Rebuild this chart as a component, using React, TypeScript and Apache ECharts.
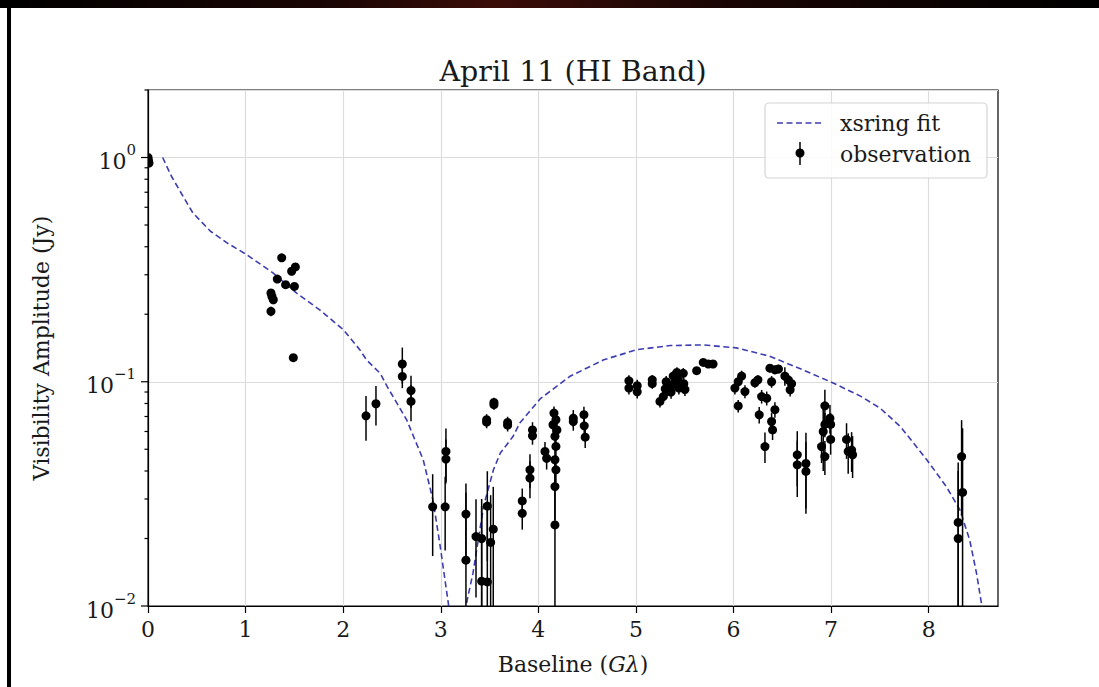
import React, { useEffect, useRef } from "react";
import * as echarts from "echarts";

// Fitted xsring model curve (baseline in Gλ, amplitude in Jy)
const fitX = [0.15, 0.24, 0.36, 0.46, 0.64, 0.81, 1.01, 1.28, 1.52, 1.76, 2.0, 2.17, 2.24, 2.38, 2.45, 2.65, 2.82, 2.92, 2.99, 3.08, 3.14, 3.2, 3.26, 3.33, 3.44, 3.54, 3.61, 3.74, 3.81, 4.02, 4.32, 4.67, 5.01, 5.35, 5.69, 6.03, 6.37, 6.71, 7.02, 7.3, 7.5, 7.71, 7.98, 8.18, 8.32, 8.42, 8.49, 8.54, 8.6];
const fitY = [1.0, 0.825, 0.67, 0.566, 0.469, 0.416, 0.369, 0.306, 0.249, 0.209, 0.171, 0.139, 0.125, 0.109, 0.0953, 0.0677, 0.0449, 0.0297, 0.019, 0.0101, 0.006, 0.002, 0.0101, 0.014, 0.028, 0.0405, 0.0481, 0.057, 0.0655, 0.084, 0.1055, 0.1253, 0.139, 0.145, 0.146, 0.1416, 0.13, 0.113, 0.0988, 0.0863, 0.0764, 0.0631, 0.0449, 0.0341, 0.0268, 0.0197, 0.014, 0.0103, 0.006];

// Observed visibility amplitudes with 1-sigma errors (Jy)
const obsX = [
  0.0, 0.005, 0.01,
  1.37, 1.325, 1.41, 1.472, 1.51, 1.5, 1.26, 1.284, 1.27, 1.26, 1.489,
  2.234, 2.336, 2.606, 2.606, 2.695, 2.695,
  2.917, 3.053, 3.053, 3.045, 3.258, 3.258, 3.361, 3.419, 3.419, 3.477, 3.477, 3.511, 3.538,
  3.47, 3.47, 3.545, 3.545, 3.685, 3.685, 3.835, 3.835, 3.914, 3.914, 3.94, 3.94, 4.068, 4.085,
  4.16, 4.18, 4.15, 4.19, 4.17, 4.18, 4.17, 4.18, 4.17, 4.17,
  4.358, 4.358, 4.467, 4.47, 4.48,
  4.928, 4.928, 5.013, 5.013, 5.167, 5.167, 5.246, 5.28, 5.314, 5.31, 5.348, 5.382, 5.39, 5.433, 5.44, 5.485, 5.49, 5.502, 5.36, 5.3, 5.42,
  5.622, 5.69, 5.741, 5.79,
  6.014, 6.048, 6.083, 6.117, 6.048, 6.219, 6.25, 6.288, 6.34, 6.263, 6.39, 6.373, 6.424, 6.46, 6.424, 6.39, 6.4, 6.322, 6.526, 6.56, 6.595, 6.58,
  6.653, 6.653, 6.742, 6.742, 6.936, 6.919, 6.936, 6.902, 6.936, 6.988, 6.995, 6.995,
  7.158, 7.175, 7.21, 7.22,
  8.337, 8.347, 8.302, 8.302,
];
const obsY = [
  1.0, 0.97, 0.945,
  0.357, 0.287, 0.271, 0.311, 0.325, 0.266, 0.249, 0.232, 0.24, 0.206, 0.128,
  0.0705, 0.0798, 0.12, 0.1056, 0.0914, 0.0817,
  0.0277, 0.0489, 0.0452, 0.0277, 0.0257, 0.016, 0.0204, 0.02, 0.0129, 0.0128, 0.0279, 0.0192, 0.022,
  0.0677, 0.066, 0.0809, 0.079, 0.0658, 0.064, 0.0294, 0.0259, 0.0405, 0.0372, 0.061, 0.0574, 0.0489, 0.0456,
  0.0725, 0.0677, 0.0643, 0.061, 0.0571, 0.0515, 0.0449, 0.0405, 0.0341, 0.023,
  0.0688, 0.0665, 0.0713, 0.0636, 0.0566,
  0.101, 0.0937, 0.096, 0.0902, 0.102, 0.098, 0.0817, 0.0859, 0.0903, 0.1, 0.0953, 0.106, 0.098, 0.102, 0.0937, 0.109, 0.098, 0.0923, 0.09, 0.093, 0.11,
  0.112, 0.122, 0.12, 0.12,
  0.0937, 0.1, 0.106, 0.0904, 0.078, 0.099, 0.102, 0.0859, 0.0844, 0.0712, 0.1, 0.115, 0.113, 0.114, 0.0751, 0.0665, 0.061, 0.0514, 0.106, 0.102, 0.098, 0.092,
  0.0472, 0.0426, 0.0432, 0.0398, 0.0781, 0.06, 0.0645, 0.0514, 0.0464, 0.0688, 0.0645, 0.0553,
  0.0553, 0.0489, 0.0496, 0.0472,
  0.0464, 0.0321, 0.0236, 0.02,
];
const obsErr = [
  0.01, 0.01, 0.01,
  0.012, 0.01, 0.01, 0.01, 0.01, 0.01, 0.01, 0.01, 0.01, 0.01, 0.005,
  0.016, 0.016, 0.022, 0.012, 0.015, 0.015,
  0.011, 0.013, 0.01, 0.01, 0.0095, 0.016, 0.0095, 0.01, 0.015, 0.014, 0.012, 0.012, 0.012,
  0.004, 0.004, 0.004, 0.004, 0.004, 0.004, 0.004, 0.004, 0.007, 0.007, 0.005, 0.005, 0.005, 0.005,
  0.005, 0.005, 0.005, 0.005, 0.005, 0.005, 0.005, 0.005, 0.01, 0.022,
  0.006, 0.006, 0.006, 0.006, 0.006,
  0.006, 0.006, 0.006, 0.006, 0.005, 0.005, 0.005, 0.005, 0.006, 0.006, 0.006, 0.006, 0.006, 0.006, 0.006, 0.006, 0.006, 0.006, 0.006, 0.006, 0.006,
  0.004, 0.004, 0.004, 0.004,
  0.006, 0.006, 0.006, 0.006, 0.005, 0.005, 0.005, 0.006, 0.006, 0.006, 0.006, 0.005, 0.005, 0.005, 0.006, 0.006, 0.006, 0.008, 0.01, 0.006, 0.006, 0.006,
  0.013, 0.012, 0.016, 0.014, 0.014, 0.02, 0.008, 0.008, 0.008, 0.01, 0.008, 0.008,
  0.01, 0.01, 0.01, 0.01,
  0.021, 0.03, 0.02, 0.02,
];

const xTicks = [0, 1, 2, 3, 4, 5, 6, 7, 8];
const yMajorTicks = [0.01, 0.1, 1];
const yMinorTicks = [0.02, 0.03, 0.04, 0.05, 0.06, 0.07, 0.08, 0.09, 0.2, 0.3, 0.4, 0.5, 0.6, 0.7, 0.8, 0.9, 2];

const SERIF = '"DejaVu Serif", serif';
const FIT_COLOR = "#3d3db2";
const TEXT = "#1a1a1a";

export default function App() {
  const ref = useRef<HTMLDivElement>(null);

  useEffect(() => {
    if (!ref.current) return;
    const chart = echarts.init(ref.current, null, { renderer: "svg" });

    const fitData = fitX.map((x, i) => [x, fitY[i]]);
    const obsData = obsX.map((x, i) => [x, obsY[i], obsErr[i]]);
    const tickData = [
      ...yMajorTicks.map((v) => [0, v, 7]),
      ...yMinorTicks.map((v) => [0, v, 3.5]),
    ];

    const supLabel = (v: number) => {
      const l = Math.log10(v);
      const e = Math.round(l);
      if (Math.abs(l - e) > 1e-6) return "";
      return `{b|10}{s|${e === 0 ? "0" : "\u2212" + -e}}`;
    };

    const legendZ = { z: 100, zlevel: 0 };

    chart.setOption({
      animation: false,
      backgroundColor: "#ffffff",
      grid: {
        left: 148,
        right: 101,
        top: 90,
        bottom: 81,
        show: true,
        borderColor: "#000",
        borderWidth: 1.2,
        backgroundColor: "transparent",
      },
      xAxis: {
        type: "value",
        min: 0,
        max: 8.71,
        interval: 1,
        axisLine: { show: true, onZero: false, lineStyle: { color: "#000", width: 1.2 } },
        axisTick: { show: true, length: 7, customValues: xTicks, lineStyle: { color: "#000", width: 1.2 } },
        axisLabel: {
          customValues: xTicks,
          fontFamily: SERIF,
          fontSize: 22,
          color: TEXT,
          margin: 12,
        },
        splitLine: { show: true, lineStyle: { color: "#dcdcdc", width: 1.2 } },
        name: "Baseline ({i|G\u03bb})",
        nameLocation: "middle",
        nameGap: 47,
        nameTextStyle: {
          fontFamily: SERIF,
          fontSize: 22,
          color: TEXT,
          rich: { i: { fontFamily: SERIF, fontSize: 22, fontStyle: "italic", color: TEXT } },
        },
      },
      yAxis: {
        type: "log",
        logBase: 10,
        min: 0.01,
        max: 2,
        axisLine: { show: true, lineStyle: { color: "#000", width: 1.2 } },
        axisTick: { show: false },
        axisLabel: {
          formatter: supLabel,
          margin: 12,
          rich: {
            b: { fontFamily: SERIF, fontSize: 22, color: TEXT, lineHeight: 30, verticalAlign: "bottom" },
            s: { fontFamily: SERIF, fontSize: 15, color: TEXT, lineHeight: 30, verticalAlign: "top" },
          },
        },
        splitLine: { show: true, lineStyle: { color: "#dcdcdc", width: 1.2 } },
        name: "Visibility Amplitude (Jy)",
        nameLocation: "middle",
        nameGap: 96,
        nameTextStyle: { fontFamily: SERIF, fontSize: 22, color: TEXT },
      },
      series: [
        {
          name: "xsring fit",
          type: "line",
          data: fitData,
          showSymbol: false,
          clip: true,
          z: 3,
          lineStyle: { color: FIT_COLOR, width: 1.6, type: [6, 3.5] },
        },
        {
          name: "observation",
          type: "custom",
          data: obsData,
          clip: true,
          z: 4,
          encode: { x: 0, y: 1 },
          renderItem: (_params: any, api: any) => {
            const x = api.value(0);
            const y = api.value(1);
            const e = api.value(2);
            const lo = y - e > 0 ? y - e : 1e-5;
            const p = api.coord([x, y]);
            const top = api.coord([x, y + e]);
            const bot = api.coord([x, lo]);
            return {
              type: "group",
              children: [
                {
                  type: "line",
                  shape: { x1: p[0], y1: top[1], x2: p[0], y2: bot[1] },
                  style: { stroke: "#000", lineWidth: 1.5 },
                },
                {
                  type: "circle",
                  shape: { cx: p[0], cy: p[1], r: 4.5 },
                  style: { fill: "#000" },
                },
              ],
            };
          },
        },
        {
          // major and minor log ticks on the left spine
          type: "custom",
          data: tickData,
          clip: false,
          silent: true,
          z: 5,
          encode: { x: 0, y: 1 },
          renderItem: (_params: any, api: any) => {
            const p = api.coord([api.value(0), api.value(1)]);
            const len = api.value(2);
            return {
              type: "line",
              shape: { x1: p[0] - len, y1: p[1], x2: p[0], y2: p[1] },
              style: { stroke: "#000", lineWidth: 1.2 },
            };
          },
        },
      ],
      graphic: [
        {
          type: "rect",
          shape: { x: 0, y: 0, width: 1099, height: 8 },
          style: {
            fill: new echarts.graphic.LinearGradient(0, 0, 1, 0, [
              { offset: 0, color: "#000" },
              { offset: 0.3, color: "#1a0604" },
              { offset: 0.45, color: "#3a0c08" },
              { offset: 0.65, color: "#1a0604" },
              { offset: 1, color: "#000" },
            ]),
          },
          silent: true,
        },
        {
          type: "rect",
          shape: { x: 7, y: 0, width: 4, height: 687 },
          style: { fill: "#000" },
          silent: true,
        },
        {
          type: "text",
          x: 573,
          y: 71,
          style: {
            text: "April 11 (HI Band)",
            fontFamily: SERIF,
            fontSize: 28.5,
            fill: TEXT,
            align: "center",
            verticalAlign: "middle",
          },
          silent: true,
        },
        {
          type: "rect",
          ...legendZ,
          silent: true,
          shape: { x: 765, y: 103, width: 222, height: 75, r: 4 },
          style: { fill: "rgba(255,255,255,0.85)", stroke: "#d4d4d4", lineWidth: 1.2 },
        },
        {
          type: "line",
          ...legendZ,
          silent: true,
          shape: { x1: 777, y1: 123, x2: 823, y2: 123 },
          style: { stroke: FIT_COLOR, lineWidth: 1.6, lineDash: [6, 3.5] },
        },
        {
          type: "line",
          ...legendZ,
          silent: true,
          shape: { x1: 800, y1: 142, x2: 800, y2: 165 },
          style: { stroke: "#000", lineWidth: 1.5 },
        },
        {
          type: "circle",
          ...legendZ,
          silent: true,
          shape: { cx: 800, cy: 153, r: 4.5 },
          style: { fill: "#000" },
        },
        {
          type: "text",
          ...legendZ,
          silent: true,
          x: 840,
          y: 123,
          style: { text: "xsring fit", fontFamily: SERIF, fontSize: 22, fill: TEXT, align: "left", verticalAlign: "middle" },
        },
        {
          type: "text",
          ...legendZ,
          silent: true,
          x: 840,
          y: 154,
          style: { text: "observation", fontFamily: SERIF, fontSize: 22, fill: TEXT, align: "left", verticalAlign: "middle" },
        },
      ],
    });

    return () => chart.dispose();
  }, []);

  return (
    <div
      ref={ref}
      style={{ position: "fixed", left: 0, top: 0, width: 1099, height: 687, background: "#fff" }}
    />
  );
}
